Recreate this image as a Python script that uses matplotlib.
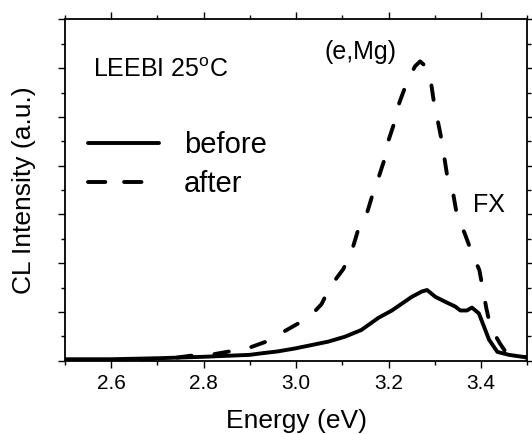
import matplotlib
matplotlib.use("Agg")
import matplotlib.pyplot as plt
from matplotlib.lines import Line2D
from matplotlib.ticker import MultipleLocator, NullFormatter

plt.rcParams['font.family'] = ['Liberation Sans', 'DejaVu Sans']
plt.rcParams['mathtext.fontset'] = 'custom'
plt.rcParams['mathtext.rm'] = 'Liberation Sans'
plt.rcParams['lines.scale_dashes'] = False

# "before" LEEBI (solid)
energy_before = [2.50, 2.60, 2.70, 2.80, 2.85, 2.90, 2.924, 2.960, 2.997, 3.033,
                 3.069, 3.105, 3.141, 3.178, 3.207, 3.250, 3.272, 3.283, 3.301,
                 3.322, 3.344, 3.355, 3.369, 3.380, 3.395, 3.406, 3.417, 3.435,
                 3.460, 3.489, 3.503]
intensity_before = [0.03, 0.03, 0.05, 0.08, 0.10, 0.12, 0.15, 0.19, 0.25, 0.32,
                    0.39, 0.49, 0.63, 0.88, 1.03, 1.31, 1.42, 1.45, 1.31,
                    1.21, 1.11, 1.03, 1.03, 1.09, 0.97, 0.70, 0.43, 0.18,
                    0.12, 0.08, 0.07]

# "after" LEEBI (dashed)
energy_after = [2.50, 2.60, 2.66, 2.70, 2.74, 2.77, 2.82, 2.85, 2.90, 2.935,
                2.976, 3.015, 3.035, 3.055, 3.073, 3.102, 3.120, 3.133, 3.152,
                3.165, 3.178, 3.192, 3.199, 3.214, 3.223, 3.239, 3.257, 3.268,
                3.280, 3.292, 3.298, 3.306, 3.315, 3.327, 3.340, 3.348, 3.364,
                3.380, 3.396, 3.404, 3.411, 3.420, 3.440, 3.455, 3.470, 3.500]
intensity_after = [0.00, 0.01, 0.03, 0.04, 0.06, 0.10, 0.13, 0.18, 0.27, 0.39,
                   0.61, 0.82, 0.96, 1.16, 1.51, 1.88, 2.24, 2.65, 2.99,
                   3.40, 3.75, 4.16, 4.50, 4.93, 5.29, 5.70, 6.04, 6.14,
                   6.04, 5.68, 5.29, 4.93, 4.50, 3.76, 3.40, 2.96, 2.62,
                   2.21, 1.86, 1.45, 1.08, 0.70, 0.36, 0.15, 0.10, 0.06]

series_labels = ["before", "after"]
xticks_major = [2.6, 2.8, 3.0, 3.2, 3.4]

fig = plt.figure(figsize=(5.32, 4.34), dpi=100)
ax = fig.add_axes([0.1216, 0.1689, 0.8699, 0.7862])

lw = 2.8
ax.plot(energy_before, intensity_before, color='black', lw=lw,
        solid_joinstyle='round', solid_capstyle='round')
ax.plot(energy_after, intensity_after, color='black', lw=lw,
        dashes=(10.5, 16.5), dash_capstyle='round', dash_joinstyle='round')

ax.set_xlim(2.5, 3.5)
ax.set_ylim(0, 7)
ax.set_xticks(xticks_major)
ax.set_xticklabels([f"{v:.1f}" for v in xticks_major])
ax.xaxis.set_minor_locator(MultipleLocator(0.1))
ax.yaxis.set_major_locator(MultipleLocator(1))
ax.yaxis.set_minor_locator(MultipleLocator(0.5))
ax.yaxis.set_major_formatter(NullFormatter())

for s in ax.spines.values():
    s.set_linewidth(1.3)
ax.tick_params(which='both', direction='out', top=True, right=True,
               width=1.0, labelsize=15, pad=5)
ax.tick_params(which='major', length=4.8)
ax.tick_params(which='minor', length=2.6)

ax.set_xlabel("Energy (eV)", fontsize=19, labelpad=11)
ax.set_ylabel("CL Intensity (a.u.)", fontsize=19, labelpad=11)

ax.text(0.061, 0.853, r"LEEBI 25$^{\rm o}$C", transform=ax.transAxes,
        fontsize=18, ha='left', va='center')
ax.text(0.639, 0.905, "(e,Mg)", transform=ax.transAxes,
        fontsize=18, ha='center', va='center')
ax.text(0.917, 0.456, "FX", transform=ax.transAxes,
        fontsize=18, ha='center', va='center')

handles = [Line2D([], [], color='black', lw=lw, solid_capstyle='round'),
           Line2D([], [], color='black', lw=lw, dashes=(12.5, 13.5),
                  dash_capstyle='round')]
ax.legend(handles, series_labels, loc='upper left',
          bbox_to_anchor=(0.050, 0.672), frameon=False, fontsize=21,
          handlelength=2.45, handletextpad=0.85, labelspacing=0.36,
          borderpad=0, borderaxespad=0)

fig.savefig("out.png", dpi=100)
